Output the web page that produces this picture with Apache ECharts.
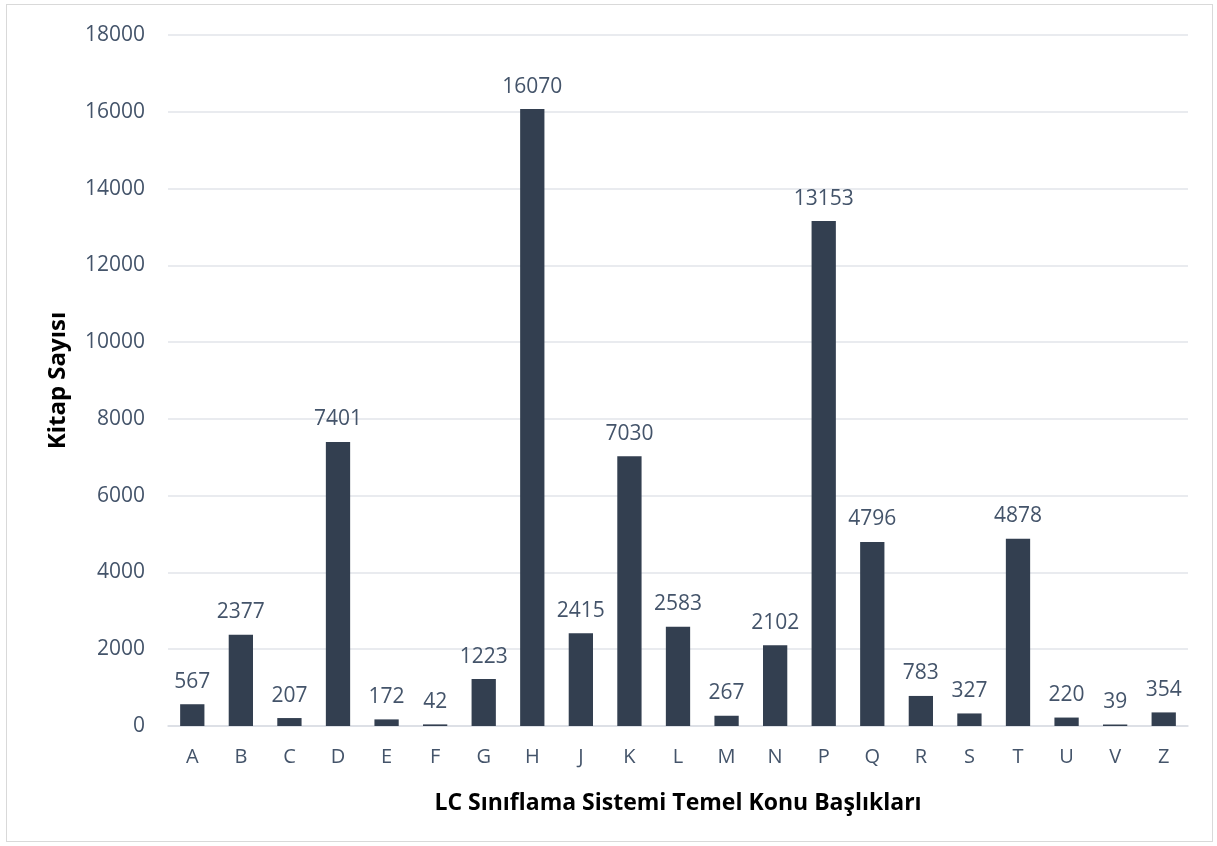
<!DOCTYPE html>
<html><head><meta charset="utf-8">
<script src="https://cdn.jsdelivr.net/npm/echarts@6/dist/echarts.min.js"></script>
<style>
html,body{margin:0;padding:0;background:#fff;}
#frame{position:absolute;left:6px;top:4px;width:1207px;height:838px;border:1.5px solid #D9D9D9;box-sizing:border-box;}
#c{position:absolute;left:0;top:0;width:1217px;height:846px;}
</style></head>
<body>
<div id="frame"></div>
<div id="c"></div>
<script>
const categories = ['A','B','C','D','E','F','G','H','J','K','L','M','N','P','Q','R','S','T','U','V','Z'];
const values = [567,2377,207,7401,172,42,1223,16070,2415,7030,2583,267,2102,13153,4796,783,327,4878,220,39,354];
const yTicks = {min:0, max:18000, interval:2000};
const xTitle = 'LC Sınıflama Sistemi Temel Konu Başlıkları';
const yTitle = 'Kitap Sayısı';

const textColor = '#44546A';
const font = 'Open Sans';
const chart = echarts.init(document.getElementById('c'), null, {renderer:'canvas'});
chart.setOption({
  backgroundColor:'transparent',
  animation:false,
  grid:{left:168, right:29, top:35, bottom:120, containLabel:false},
  xAxis:{
    type:'category', data:categories,
    axisLine:{lineStyle:{color:'#D9DDE3', width:1.5}},
    axisTick:{show:false},
    axisLabel:{color:textColor, fontSize:20, fontFamily:font, margin:21},
    name:xTitle, nameLocation:'middle', nameGap:66,
    nameTextStyle:{color:'#000', fontSize:23, fontWeight:'bold', fontFamily:font}
  },
  yAxis:{
    type:'value', min:yTicks.min, max:yTicks.max, interval:yTicks.interval,
    axisLine:{show:false}, axisTick:{show:false},
    splitLine:{lineStyle:{color:'#E2E5EA', width:1.5}},
    axisLabel:{color:textColor, fontSize:21, fontFamily:font, margin:23, formatter:(v)=>String(v)},
    name:yTitle, nameLocation:'middle', nameGap:98, nameRotate:90,
    nameTextStyle:{color:'#000', fontSize:24, fontWeight:'bold', fontFamily:font}
  },
  series:[{
    type:'bar', data:values, barWidth:'50%',
    itemStyle:{color:'#333F50'},
    label:{show:true, position:'top', distance:12, color:textColor, fontSize:21, fontFamily:font}
  }]
});
</script>
</body></html>
